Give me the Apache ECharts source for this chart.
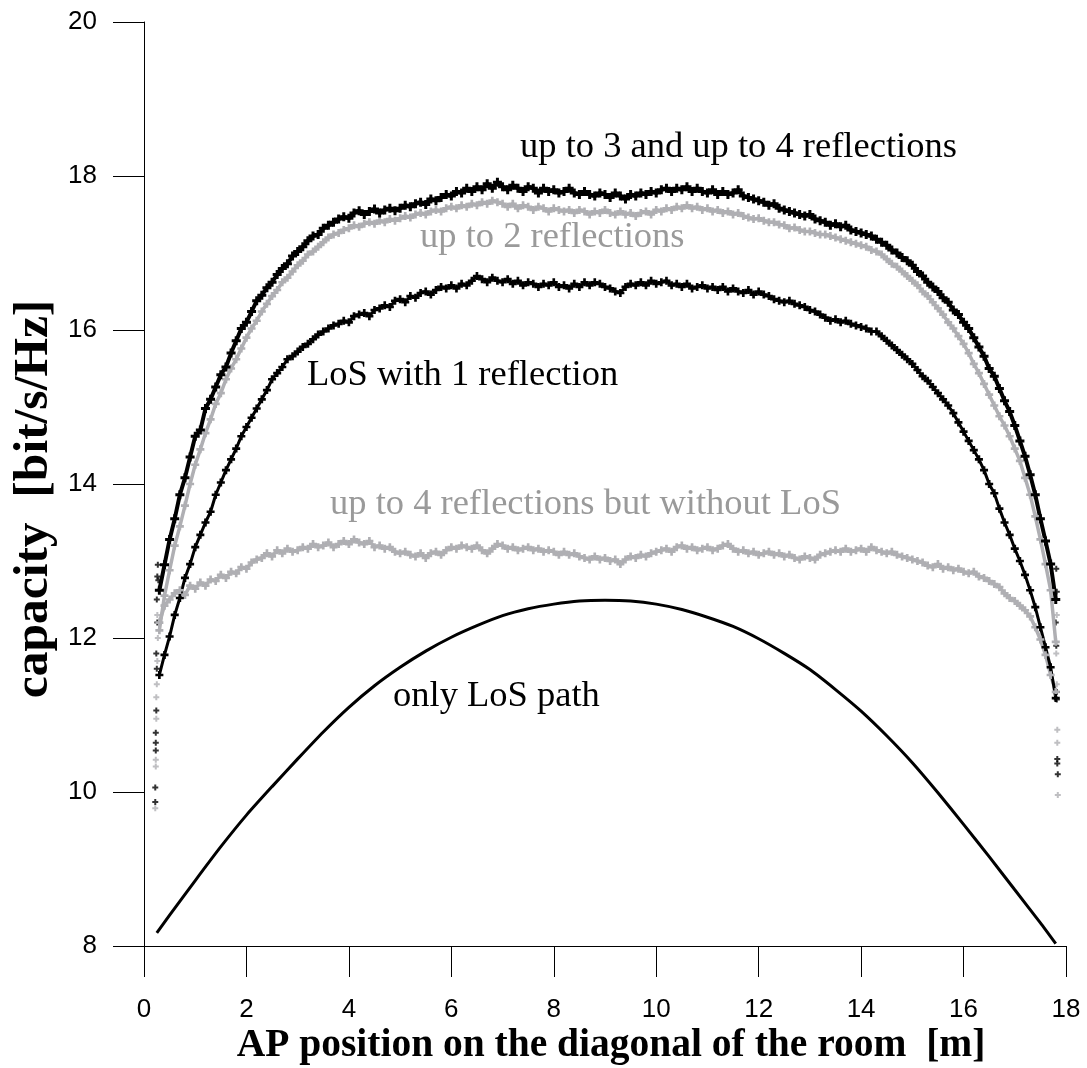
<!DOCTYPE html>
<html>
<head>
<meta charset="utf-8">
<title>capacity vs AP position</title>
<script src="https://cdn.jsdelivr.net/npm/echarts@6/dist/echarts.min.js"></script>
<style>
  html, body { margin: 0; padding: 0; background: #fff; }
  #chart { width: 1087px; height: 1068px; }
</style>
</head>
<body>
<div id="chart"></div>
<script>
// sample grid of the noisy series: x = 0.3 .. 17.8 m, every 0.1 m
var xStart = 0.3;
var xStep = 0.1;

// up to 3 and up to 4 reflections (black, top)
var upTo4 = [
  12.62, 12.95, 13.28, 13.55, 13.86, 14.08, 14.35, 14.62, 14.70, 14.98,
  15.10, 15.26, 15.42, 15.52, 15.70, 15.86, 16.02, 16.10, 16.24, 16.38,
  16.45, 16.55, 16.62, 16.72, 16.80, 16.86, 16.96, 17.02, 17.08, 17.16,
  17.22, 17.24, 17.32, 17.36, 17.40, 17.44, 17.47, 17.45, 17.52, 17.55,
  17.50, 17.54, 17.57, 17.52, 17.56, 17.58, 17.55, 17.58, 17.62, 17.60,
  17.64, 17.66, 17.63, 17.70, 17.68, 17.72, 17.76, 17.74, 17.80, 17.78,
  17.84, 17.80, 17.86, 17.82, 17.90, 17.84, 17.92, 17.86, 17.82, 17.88,
  17.84, 17.80, 17.86, 17.84, 17.78, 17.84, 17.80, 17.82, 17.78, 17.80,
  17.84, 17.78, 17.76, 17.80, 17.76, 17.74, 17.78, 17.76, 17.72, 17.78,
  17.74, 17.70, 17.76, 17.74, 17.78, 17.76, 17.80, 17.78, 17.82, 17.84,
  17.80, 17.84, 17.82, 17.86, 17.80, 17.84, 17.80, 17.78, 17.82, 17.76,
  17.80, 17.76, 17.78, 17.82, 17.74, 17.72, 17.70, 17.68, 17.66, 17.62,
  17.64, 17.58, 17.56, 17.54, 17.52, 17.50, 17.48, 17.50, 17.44, 17.42,
  17.40, 17.36, 17.38, 17.34, 17.36, 17.30, 17.28, 17.26, 17.24, 17.22,
  17.18, 17.14, 17.10, 17.04, 17.00, 16.94, 16.90, 16.84, 16.76, 16.70,
  16.62, 16.56, 16.50, 16.42, 16.36, 16.26, 16.20, 16.10, 16.02, 15.90,
  15.78, 15.66, 15.50, 15.40, 15.24, 15.08, 14.94, 14.76, 14.56, 14.36,
  14.12, 13.86, 13.55, 13.26, 12.96, 12.50
];

// up to 2 reflections (grey)
var upTo2 = [
  12.10, 12.55, 12.88, 13.20, 13.45, 13.72, 14.00, 14.25, 14.45, 14.66,
  14.84, 15.04, 15.18, 15.36, 15.50, 15.62, 15.76, 15.90, 16.02, 16.12,
  16.24, 16.34, 16.44, 16.52, 16.62, 16.68, 16.76, 16.84, 16.90, 16.98,
  17.02, 17.08, 17.14, 17.20, 17.24, 17.26, 17.30, 17.32, 17.36, 17.34,
  17.38, 17.40, 17.38, 17.42, 17.40, 17.44, 17.42, 17.45, 17.48, 17.46,
  17.50, 17.52, 17.50, 17.54, 17.56, 17.54, 17.58, 17.60, 17.58, 17.62,
  17.60, 17.64, 17.62, 17.66, 17.64, 17.68, 17.66, 17.64, 17.60, 17.64,
  17.58, 17.62, 17.60, 17.56, 17.60, 17.58, 17.54, 17.58, 17.56, 17.54,
  17.56, 17.52, 17.56, 17.54, 17.50, 17.54, 17.52, 17.56, 17.52, 17.50,
  17.54, 17.50, 17.52, 17.48, 17.52, 17.54, 17.50, 17.56, 17.54, 17.58,
  17.56, 17.60, 17.58, 17.62, 17.58, 17.60, 17.56, 17.58, 17.54, 17.56,
  17.52, 17.54, 17.50, 17.52, 17.48, 17.46, 17.44, 17.45, 17.42, 17.40,
  17.40, 17.37, 17.36, 17.32, 17.33, 17.30, 17.28, 17.28, 17.26, 17.24,
  17.24, 17.22, 17.20, 17.18, 17.16, 17.14, 17.12, 17.10, 17.08, 17.04,
  17.02, 16.98, 16.92, 16.86, 16.82, 16.76, 16.70, 16.64, 16.58, 16.50,
  16.44, 16.36, 16.28, 16.20, 16.10, 16.02, 15.92, 15.82, 15.70, 15.56,
  15.44, 15.30, 15.16, 15.02, 14.88, 14.76, 14.62, 14.46, 14.30, 14.08,
  13.86, 13.58, 13.28, 12.96, 12.62, 11.95
];

// LoS with 1 reflection (black)
var los1 = [
  11.52, 11.78, 12.02, 12.30, 12.52, 12.78, 12.96, 13.18, 13.34, 13.50,
  13.64, 13.86, 14.02, 14.18, 14.32, 14.46, 14.62, 14.74, 14.86, 14.98,
  15.10, 15.22, 15.36, 15.44, 15.52, 15.62, 15.66, 15.72, 15.78, 15.82,
  15.88, 15.94, 15.98, 16.02, 16.06, 16.08, 16.12, 16.10, 16.18, 16.20,
  16.22, 16.18, 16.26, 16.28, 16.32, 16.30, 16.38, 16.40, 16.36, 16.44,
  16.42, 16.48, 16.50, 16.46, 16.52, 16.56, 16.54, 16.58, 16.54, 16.60,
  16.58, 16.64, 16.70, 16.66, 16.62, 16.68, 16.64, 16.62, 16.66, 16.60,
  16.64, 16.58, 16.62, 16.60, 16.56, 16.60, 16.58, 16.62, 16.56, 16.58,
  16.54, 16.60, 16.56, 16.62, 16.58, 16.62, 16.60, 16.56, 16.54, 16.50,
  16.48, 16.56, 16.60, 16.58, 16.62, 16.58, 16.64, 16.60, 16.62, 16.64,
  16.58, 16.60, 16.56, 16.60, 16.54, 16.56, 16.58, 16.54, 16.56, 16.52,
  16.56, 16.50, 16.54, 16.50, 16.48, 16.52, 16.46, 16.50, 16.46, 16.44,
  16.40, 16.38, 16.36, 16.38, 16.34, 16.32, 16.30, 16.26, 16.24, 16.20,
  16.16, 16.12, 16.14, 16.10, 16.12, 16.08, 16.06, 16.04, 16.02, 15.98,
  15.98, 15.92, 15.86, 15.80, 15.74, 15.68, 15.62, 15.56, 15.48, 15.40,
  15.34, 15.26, 15.18, 15.10, 15.02, 14.92, 14.80, 14.68, 14.56, 14.44,
  14.32, 14.18, 14.00, 13.88, 13.68, 13.50, 13.34, 13.16, 13.00, 12.82,
  12.62, 12.40, 12.14, 11.88, 11.62, 11.22
];

// up to 4 reflections but without LoS (grey)
var noLos = [
  12.20, 12.42, 12.50, 12.58, 12.62, 12.56, 12.68, 12.64, 12.72, 12.68,
  12.76, 12.74, 12.82, 12.78, 12.86, 12.84, 12.92, 12.90, 12.98, 13.02,
  13.04, 13.10, 13.06, 13.14, 13.10, 13.16, 13.12, 13.14, 13.18, 13.16,
  13.22, 13.18, 13.20, 13.24, 13.18, 13.22, 13.26, 13.22, 13.28, 13.24,
  13.22, 13.26, 13.18, 13.20, 13.16, 13.18, 13.12, 13.10, 13.12, 13.08,
  13.06, 13.10, 13.04, 13.10, 13.12, 13.08, 13.14, 13.18, 13.16, 13.20,
  13.18, 13.16, 13.20, 13.14, 13.10, 13.16, 13.22, 13.20, 13.16, 13.18,
  13.14, 13.16, 13.18, 13.14, 13.16, 13.12, 13.14, 13.12, 13.08, 13.12,
  13.08, 13.10, 13.06, 13.04, 13.02, 13.06, 13.02, 13.04, 13.00, 13.02,
  12.96, 13.02, 13.06, 13.04, 13.08, 13.06, 13.10, 13.12, 13.14, 13.16,
  13.12, 13.18, 13.20, 13.16, 13.18, 13.14, 13.16, 13.18, 13.14, 13.16,
  13.20, 13.22, 13.16, 13.12, 13.14, 13.10, 13.12, 13.08, 13.10, 13.12,
  13.08, 13.10, 13.06, 13.08, 13.04, 13.02, 13.06, 13.04, 13.02, 13.08,
  13.10, 13.12, 13.14, 13.12, 13.16, 13.12, 13.14, 13.16, 13.12, 13.18,
  13.14, 13.12, 13.10, 13.12, 13.08, 13.06, 13.04, 13.02, 13.00, 12.98,
  12.94, 12.92, 12.96, 12.90, 12.92, 12.88, 12.90, 12.86, 12.84, 12.86,
  12.80, 12.78, 12.74, 12.70, 12.66, 12.58, 12.52, 12.48, 12.42, 12.36,
  12.28, 12.14, 11.98, 11.78, 11.52, 11.30
];

// steep drop right at the walls: [x, capacity]
var blackEdge = [
  [0.22, 9.87], [0.22, 10.06], [0.23, 10.54], [0.23, 10.64], [0.23, 10.77],
  [0.24, 11.06], [0.24, 11.8], [0.25, 11.6], [0.25, 12.5], [0.26, 12.2],
  [0.26, 12.8], [0.27, 12.95], [0.28, 12.75],
  [17.80, 12.2], [17.81, 12.9], [17.81, 11.9], [17.82, 12.6], [17.82, 11.3],
  [17.82, 11.2], [17.83, 10.43], [17.83, 10.37], [17.84, 10.23]
];
var greyEdge = [
  [0.22, 9.79], [0.23, 10.33], [0.23, 10.42], [0.24, 10.95], [0.24, 11.23],
  [0.25, 11.4], [0.26, 11.7], [0.27, 12.0], [0.26, 12.3],
  [17.81, 11.8], [17.82, 12.3], [17.82, 11.4], [17.83, 10.81], [17.83, 10.64],
  [17.84, 9.96]
];

// only LoS path (smooth)
var losX = [0.25, 0.5, 1, 1.5, 2, 2.5, 3, 3.5, 4, 4.5, 5, 5.5, 6, 6.5, 7, 7.5, 8, 8.5, 9,
  9.5, 10, 10.5, 11, 11.5, 12, 12.5, 13, 13.5, 14, 14.5, 15, 15.5, 16, 16.5, 17, 17.5, 17.8];
var losY = [8.17, 8.40, 8.85, 9.29, 9.70, 10.07, 10.43, 10.78, 11.10, 11.38, 11.62, 11.83,
  12.01, 12.16, 12.29, 12.38, 12.44, 12.48, 12.49, 12.48, 12.44, 12.37, 12.27, 12.15, 11.99,
  11.80, 11.59, 11.33, 11.05, 10.73, 10.38, 9.99, 9.58, 9.16, 8.73, 8.30, 8.03];

var xTicks = [0, 2, 4, 6, 8, 10, 12, 14, 16, 18];
var yTicks = [8, 10, 12, 14, 16, 18, 20];

var plus = 'path://M2,0h2v2h2v2h-2v2h-2v-2h-2v-2h2z';
var black = '#000000';
var grey = '#afafb3';
var greyText = '#9a9a9a';

function onGrid(vals) {
  return vals.map(function (v, i) {
    return [+(xStart + i * xStep).toFixed(2), v];
  });
}

// dense noisy band: crosses joined by a jagged line
function band(vals, color, width, size) {
  return {
    type: 'line',
    data: onGrid(vals),
    symbol: plus,
    symbolSize: size,
    showSymbol: true,
    showAllSymbol: true,
    itemStyle: { color: color },
    lineStyle: { color: color, width: width, join: 'round' },
    silent: true
  };
}

function dots(data, color) {
  return {
    type: 'scatter',
    data: data,
    symbol: plus,
    symbolSize: 6,
    itemStyle: { color: color },
    silent: true
  };
}

var myChart = echarts.init(document.getElementById('chart'));
var serif = '"Liberation Serif", "Times New Roman", serif';

myChart.setOption({
  animation: false,
  backgroundColor: '#fff',
  grid: { left: 144, right: 21, top: 22, bottom: 122 },
  xAxis: {
    type: 'value',
    min: xTicks[0],
    max: xTicks[xTicks.length - 1],
    interval: 2,
    axisLine: { lineStyle: { color: '#000', width: 1 } },
    axisTick: { length: 31, lineStyle: { color: '#000' } },
    splitLine: { show: false },
    axisLabel: { color: '#000', fontSize: 26, fontFamily: 'Liberation Sans', margin: 51 }
  },
  yAxis: {
    type: 'value',
    min: yTicks[0],
    max: yTicks[yTicks.length - 1],
    interval: 2,
    axisLine: { show: true, lineStyle: { color: '#000', width: 1 } },
    axisTick: { show: true, length: 31, lineStyle: { color: '#000' } },
    splitLine: { show: false },
    axisLabel: { color: '#000', fontSize: 26, fontFamily: 'Liberation Sans', margin: 47 }
  },
  graphic: [
    { type: 'text', x: 520, y: 147, style: { text: 'up to 3 and up to 4 reflections', fill: black,
      fontSize: 36.5, fontFamily: serif, verticalAlign: 'middle' } },
    { type: 'text', x: 420, y: 237, style: { text: 'up to 2 reflections', fill: greyText,
      fontSize: 36.5, fontFamily: serif, verticalAlign: 'middle' } },
    { type: 'text', x: 307, y: 375, style: { text: 'LoS with 1 reflection', fill: black,
      fontSize: 36.5, fontFamily: serif, verticalAlign: 'middle' } },
    { type: 'text', x: 330, y: 504, style: { text: 'up to 4 reflections but without LoS', fill: greyText,
      fontSize: 36.5, fontFamily: serif, verticalAlign: 'middle' } },
    { type: 'text', x: 393, y: 696, style: { text: 'only LoS path', fill: black,
      fontSize: 36.5, fontFamily: serif, verticalAlign: 'middle' } },
    { type: 'text', x: 611, y: 1046, style: { text: 'AP position on the diagonal of the room  [m]',
      fill: black, fontSize: 39.5, fontWeight: 'bold', fontFamily: serif, align: 'center', verticalAlign: 'middle' } },
    { type: 'text', x: 34, y: 499, rotation: Math.PI / 2, style: { text: 'capacity  [bit/s/Hz]',
      fill: black, fontSize: 49.5, fontWeight: 'bold', fontFamily: serif, align: 'center', verticalAlign: 'middle' } }
  ],
  series: [
    band(noLos, grey, 3.5, 8),
    band(upTo2, grey, 3.5, 8),
    dots(greyEdge, grey),
    band(los1, black, 3, 8),
    band(upTo4, black, 4, 9),
    dots(blackEdge, black),
    {
      type: 'line',
      data: losX.map(function (x, i) { return [x, losY[i]]; }),
      smooth: 0.2,
      showSymbol: false,
      lineStyle: { color: black, width: 3 },
      silent: true
    }
  ]
});
</script>
</body>
</html>
